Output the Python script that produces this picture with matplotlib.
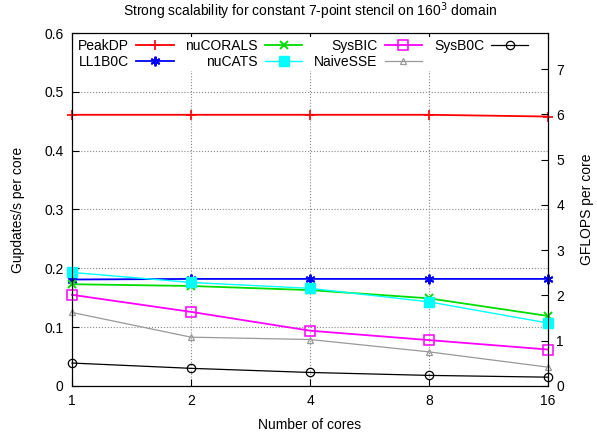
import matplotlib
matplotlib.use('Agg')
import matplotlib.pyplot as plt

cores = [1, 2, 4, 8, 16]
peak_dp = [0.461, 0.461, 0.461, 0.461, 0.458]
ll1b0c = [0.181, 0.182, 0.182, 0.182, 0.182]
nucorals = [0.173, 0.170, 0.163, 0.149, 0.119]
nucats = [0.193, 0.176, 0.166, 0.143, 0.107]
sysbic = [0.155, 0.126, 0.094, 0.078, 0.062]
naivesse = [0.125, 0.083, 0.079, 0.058, 0.032]
sysb0c = [0.039, 0.030, 0.023, 0.018, 0.015]
flops_per_update = 13

plt.rcParams['font.family'] = ['Liberation Sans', 'DejaVu Sans']
plt.rcParams['font.size'] = 10

fig = plt.figure(figsize=(5.97, 4.32), dpi=100)
ax = fig.add_axes([0.1206, 0.1065, 0.7974, 0.8171])

series = [
    ('PeakDP', peak_dp, dict(color='#ff0000', marker='+', ms=7, mew=1.2, lw=1.3)),
    ('LL1B0C', ll1b0c, dict(color='#0000ff', marker=(6, 2, 0), ms=7, mew=1.4, lw=1.3)),
    ('nuCORALS', nucorals, dict(color='#00dd00', marker='x', ms=5.5, mew=1.4, lw=1.3)),
    ('nuCATS', nucats, dict(color='#00ffff', marker='s', ms=6.5, lw=1.0)),
    ('SysBIC', sysbic, dict(color='#ff00ff', marker='s', ms=6.5, mfc='none', mew=1.1, lw=1.3)),
    ('NaiveSSE', naivesse, dict(color='#999999', marker='^', ms=5, mfc='none', mew=0.9, lw=0.9)),
    ('SysB0C', sysb0c, dict(color='#000000', marker='o', ms=6, mfc='none', mew=0.9, lw=0.9)),
]
for name, vals, kw in series:
    ax.plot(cores, vals, label=name, clip_on=False, zorder=3, **kw)

ax.set_xscale('log', base=2)
ax.set_xlim(1, 16)
ax.set_xticks(cores)
ax.set_xticklabels([str(c) for c in cores])
ax.minorticks_off()
ax.set_ylim(0, 0.6)
ax.set_yticks([0, 0.1, 0.2, 0.3, 0.4, 0.5, 0.6])
ax.set_yticklabels(['0', '0.1', '0.2', '0.3', '0.4', '0.5', '0.6'])
ax.tick_params(direction='in', length=5, top=True, right=False, pad=6)
ax.grid(True, color='#888888', ls=':', lw=0.8)
ax.set_xlabel('Number of cores', labelpad=7)
ax.set_ylabel('Gupdates/s per core', labelpad=14)
ax.set_title('Strong scalability for constant 7-point stencil on 160$^3$ domain', fontsize=10, pad=12)

ax2 = ax.twinx()
ax2.set_ylim(0, 0.6 * flops_per_update)
ax2.set_yticks(range(8))
ax2.tick_params(direction='in', length=5, pad=6)
ax2.set_ylabel('GFLOPS per core', labelpad=11)
ax2.minorticks_off()

leg = ax.legend(ncol=4, loc='upper left', bbox_to_anchor=(0.0, 1.0), markerfirst=False,
                frameon=True, fancybox=False, edgecolor='none', facecolor='white', framealpha=1,
                handlelength=2.7, columnspacing=0.85, labelspacing=0.1, borderpad=0.15,
                handletextpad=0.5, borderaxespad=0.3, fontsize=10)
leg.set_zorder(5)

fig.savefig('out.png', dpi=100)
